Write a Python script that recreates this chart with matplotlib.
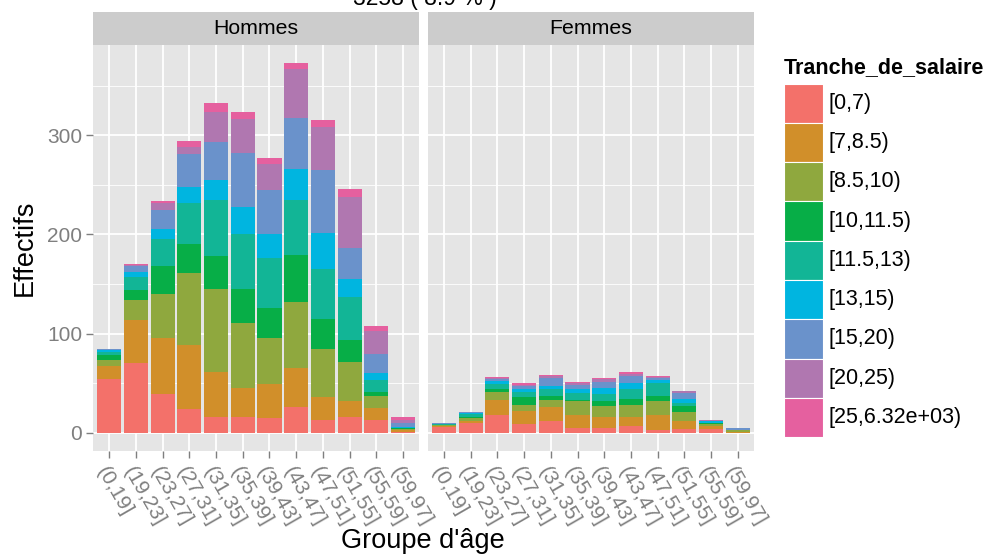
import matplotlib.pyplot as plt
import numpy as np

plt.rcParams['font.family'] = ['Liberation Sans', 'DejaVu Sans']

W, H = 985, 556

age_groups = ["(0,19]", "(19,23]", "(23,27]", "(27,31]", "(31,35]", "(35,39]",
              "(39,43]", "(43,47]", "(47,51]", "(51,55]", "(55,59]", "(59,97]"]
salary_bands = ["[0,7)", "[7,8.5)", "[8.5,10)", "[10,11.5)", "[11.5,13)",
                "[13,15)", "[15,20)", "[20,25)", "[25,6.32e+03)"]
band_colors = ["#F3716A", "#D18F2A", "#8FA83E", "#07AE47", "#12B596",
               "#00B5E0", "#6A92CB", "#B077B0", "#E5609F"]

# Hommes, one list per salary band (values per age group)
h_0_7 = [54, 70, 39, 24, 16, 16, 15, 26, 13, 16, 13, 1]
h_7_85 = [13, 44, 57, 64, 45, 29, 34, 39, 23, 16, 12, 2]
h_85_10 = [6, 20, 44, 73, 84, 66, 47, 67, 48, 39, 12, 1]
h_10_115 = [5, 10, 28, 29, 33, 34, 30, 47, 31, 23, 4, 1]
h_115_13 = [3, 13, 27, 42, 57, 55, 50, 56, 50, 43, 12, 0]
h_13_15 = [2, 5, 11, 16, 20, 28, 24, 31, 36, 18, 7, 1]
h_15_20 = [1, 6, 19, 33, 38, 54, 45, 52, 64, 31, 19, 4]
h_20_25 = [0, 1, 7, 7, 31, 34, 26, 49, 43, 52, 24, 3]
h_25_max = [0, 1, 2, 6, 9, 8, 6, 6, 7, 8, 5, 3]

# Femmes
f_0_7 = [6, 10, 18, 9, 12, 5, 5, 7, 3, 4, 4, 0]
f_7_85 = [1, 2, 15, 13, 14, 13, 11, 9, 15, 8, 3, 1]
f_85_10 = [1, 3, 8, 6, 7, 14, 11, 12, 14, 9, 2, 2]
f_10_115 = [0, 1, 3, 8, 4, 1, 5, 6, 5, 6, 1, 0]
f_115_13 = [1, 3, 5, 5, 7, 7, 7, 10, 13, 3, 0, 0]
f_13_15 = [0, 1, 3, 3, 3, 4, 6, 6, 3, 4, 2, 0]
f_15_20 = [1, 1, 2, 3, 8, 4, 6, 7, 2, 6, 0, 2]
f_20_25 = [0, 0, 1, 1, 2, 2, 3, 2, 1, 2, 1, 0]
f_25_max = [0, 0, 1, 2, 1, 1, 1, 2, 1, 0, 0, 0]

hommes = [h_0_7, h_7_85, h_85_10, h_10_115, h_115_13, h_13_15, h_15_20, h_20_25, h_25_max]
femmes = [f_0_7, f_7_85, f_85_10, f_10_115, f_115_13, f_13_15, f_15_20, f_20_25, f_25_max]


def px(left, top, right, bottom):
    # pixel box -> figure fraction
    return [left / W, 1 - bottom / H, (right - left) / W, (bottom - top) / H]


fig = plt.figure(figsize=(W / 100, H / 100), dpi=100)

grey = "#7F7F7F"
ymax_data = max(np.sum(hommes, axis=0).max(), np.sum(femmes, axis=0).max())
ylim = (-0.05 * ymax_data, 1.05 * ymax_data)

panels = [("Hommes", hommes, 93.3, 419), ("Femmes", femmes, 428, 753.7)]
x = np.arange(len(age_groups))

for i, (name, data, left, right) in enumerate(panels):
    ax = fig.add_axes(px(left, 44.5, right, 451.2))
    ax.set_facecolor("#E5E5E5")
    bottom = np.zeros(len(age_groups))
    for vals, col in zip(data, band_colors):
        ax.bar(x, vals, width=0.9, bottom=bottom, color=col, linewidth=0, zorder=3)
        bottom += np.array(vals)
    ax.set_xlim(-0.6, len(age_groups) - 0.4)
    ax.set_ylim(*ylim)
    ax.set_yticks([0, 100, 200, 300])
    ax.set_yticks([50, 150, 250, 350], minor=True)
    ax.set_xticks(x)
    ax.set_xticklabels(age_groups, rotation=-60, ha="left", va="top",
                       rotation_mode="anchor", color=grey, fontsize=15)
    ax.grid(True, which="major", color="white", linewidth=1.3, zorder=0)
    ax.grid(True, which="minor", axis="y", color="white", linewidth=0.6, zorder=0)
    ax.set_axisbelow(True)
    for s in ax.spines.values():
        s.set_visible(False)
    ax.tick_params(axis="both", which="major", color=grey, length=5, width=1)
    ax.tick_params(axis="y", which="minor", length=0)
    ax.tick_params(axis="x", pad=4)
    if i == 0:
        ax.tick_params(axis="y", labelcolor=grey, labelsize=15, pad=3)
    else:
        ax.tick_params(axis="y", length=0, labelleft=False)

    # facet strip
    sax = fig.add_axes(px(left, 12.3, right, 44.5))
    sax.set_facecolor("#CCCCCC")
    sax.set_xticks([])
    sax.set_yticks([])
    for s in sax.spines.values():
        s.set_visible(False)
    sax.text(0.5, 0.5, name, ha="center", va="center", fontsize=15.3,
             transform=sax.transAxes)

fig.text(425 / W, 1 - 5 / H, "3258 ( 8.9 % )", ha="center", va="baseline", fontsize=16.5)
fig.text(25 / W, 1 - 248 / H, "Effectifs", rotation=90, ha="center", va="center", fontsize=19.5)
fig.text(423 / W, 1 - 541 / H, "Groupe d'âge", ha="center", va="center", fontsize=19.5)

# legend
fig.text(784 / W, 1 - 68 / H, "Tranche_de_salaire", ha="left", va="center",
         fontsize=15.5, fontweight="bold")
key_top, key_h, key_w = 83.5, 39.3, 39
for j, (lab, col) in enumerate(zip(salary_bands, band_colors)):
    t = key_top + j * key_h
    kax = fig.add_axes(px(784, t, 784 + key_w, t + key_h))
    kax.set_facecolor(col)
    kax.set_xticks([])
    kax.set_yticks([])
    for s in kax.spines.values():
        s.set_edgecolor("white")
        s.set_linewidth(0.8)
    fig.text(829 / W, 1 - (t + key_h / 2) / H, lab, ha="left", va="center", fontsize=15.5)

fig.savefig("out.png", dpi=100)
